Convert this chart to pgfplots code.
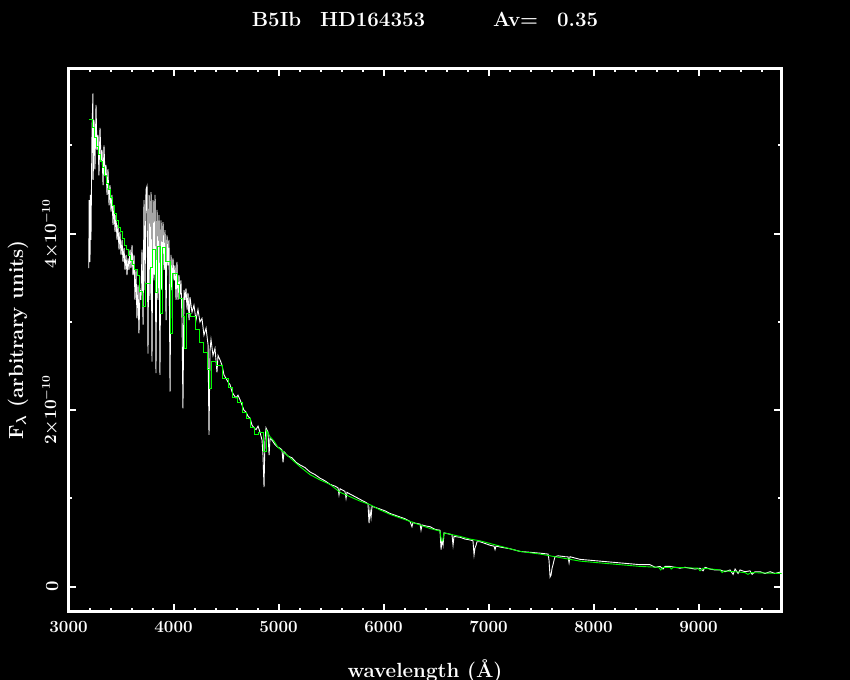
\documentclass[border=0pt]{standalone}
\usepackage{pgfplots}
\pgfplotsset{compat=1.18}
\definecolor{specgreen}{RGB}{0,255,0}
\newcommand{\tickfont}{\fontsize{17bp}{20bp}\selectfont\bfseries\boldmath}
\newcommand{\ytickfont}{\fontsize{18.5bp}{21bp}\selectfont\bfseries\boldmath}
\newcommand{\lblfont}{\fontsize{20.5bp}{24bp}\selectfont\bfseries\boldmath}
\begin{document}
\begin{tikzpicture}
\fill[black] (0,0) rectangle (850bp,680bp);
\useasboundingbox (0,0) rectangle (850bp,680bp);
\begin{axis}[
  at={(68.5bp,68.3bp)}, anchor=south west,
  scale only axis, width=713bp, height=543.4bp,
  xmin=3000, xmax=9790, ymin=-0.283, ymax=5.874,
  xtick={3000,4000,5000,6000,7000,8000,9000},
  minor xtick={3200,3400,3600,3800,4200,4400,4600,4800,5200,5400,5600,5800,6200,6400,6600,6800,7200,7400,7600,7800,8200,8400,8600,8800,9200,9400,9600},
  ytick={0,2,4}, minor ytick={1,3,5},
  yticklabels={0,$2{\times}10^{-10}$,$4{\times}10^{-10}$},
  /pgf/number format/1000 sep={},
  /pgf/number format/assume math mode=true,
  scaled y ticks=false,
  axis line style={white, line width=2.6bp},
  every tick/.style={white, line width=2bp},
  major tick length=7.5bp, minor tick length=3.5bp,
  tick align=inside,
  tick label style={text=white},
  xticklabel style={font=\tickfont, yshift=-6bp},
  yticklabel style={font=\ytickfont, rotate=90, anchor=south, inner sep=0pt, yshift=10bp},
  xlabel={wavelength (\AA)},
  ylabel={F$_{\lambda}$ (arbitrary units)},
  label style={text=white, font=\lblfont},
  xlabel style={at={(axis description cs:0.5,-0.088)}, anchor=north, inner sep=0pt},
  ylabel style={at={(axis description cs:-0.0708,0.5)}, anchor=center},
  title={B5Ib\hspace{19bp}HD164353\hspace{68bp}Av=\hspace{19bp}0.35},
  title style={text=white, font=\lblfont, at={(axis description cs:0.5,1)}, anchor=base, yshift=36bp},
]
\addplot[white, line width=0.9bp] coordinates {
(3193,3.61) (3197,4.38) (3205,3.68) (3207,4.44) (3214,3.93) (3224,5.18) (3233,5.59) (3235,4.61)
(3243,5.29) (3252,4.73) (3262,5.46) (3271,4.95) (3281,5.12) (3290,4.66) (3300,5.20) (3310,4.83)
(3319,4.95) (3329,4.55) (3338,5.00) (3348,4.66) (3357,4.78) (3367,4.44) (3376,4.73) (3386,4.32)
(3395,4.55) (3405,4.25) (3414,4.44) (3424,4.10) (3433,4.32) (3443,4.02) (3452,4.21) (3462,3.93)
(3471,4.10) (3481,3.82) (3490,4.02) (3500,3.76) (3510,3.93) (3519,3.68) (3529,3.84) (3538,3.59)
(3548,3.76) (3557,3.53) (3567,3.72) (3576,3.59) (3586,3.82) (3595,3.61) (3605,3.87) (3614,3.53)
(3624,3.76) (3633,3.25) (3643,3.59) (3652,3.04) (3662,3.42) (3671,2.87) (3681,3.36) (3690,3.25)
(3700,3.82) (3710,2.97) (3719,4.38) (3729,3.36) (3738,4.50) (3748,4.54) (3757,2.64) (3767,4.44)
(3776,3.25) (3786,4.47) (3795,2.55) (3805,4.38) (3814,3.47) (3824,4.44) (3833,2.42) (3843,4.27)
(3852,3.25) (3862,4.21) (3871,2.40) (3881,4.15) (3890,3.36) (3900,4.13) (3910,3.59) (3919,4.04)
(3929,3.02) (3938,3.98) (3948,3.64) (3957,3.93) (3967,2.21) (3976,3.76) (3986,3.36) (3995,3.72)
(4005,3.47) (4014,3.64) (4024,3.25) (4033,3.68) (4043,3.25) (4052,3.53) (4062,3.31) (4071,3.47)
(4081,3.02) (4090,2.02) (4100,3.36) (4110,3.25) (4119,3.38) (4129,3.14) (4138,3.33) (4148,3.02)
(4157,3.28) (4176,3.11) (4195,3.19) (4214,3.02) (4233,3.14) (4252,3.00) (4271,3.04) (4290,2.85)
(4310,2.93) (4329,2.74) (4338,1.72) (4348,2.68) (4357,2.80) (4376,2.62) (4395,2.70) (4414,2.43)
(4424,2.62) (4443,2.57) (4462,2.51) (4481,2.40) (4500,2.36) (4519,2.32) (4538,2.29) (4557,2.21)
(4576,2.17) (4595,2.14) (4614,2.17) (4633,2.12) (4652,2.06) (4671,2.00) (4690,1.98) (4710,1.93)
(4729,1.91) (4748,1.83) (4767,1.80) (4786,1.78) (4805,1.82) (4824,1.75) (4843,1.66) (4852,1.49)
(4862,1.13) (4871,1.66) (4881,1.80) (4900,1.75) (4910,1.49) (4919,1.68) (4938,1.66) (4967,1.61)
(4995,1.58) (5014,1.57) (5033,1.55) (5043,1.41) (5052,1.53) (5090,1.48) (5129,1.46) (5167,1.41)
(5205,1.38) (5252,1.35) (5300,1.30) (5348,1.27) (5395,1.23) (5443,1.20) (5490,1.16) (5538,1.14)
(5567,1.12) (5576,1.04) (5586,1.11) (5633,1.08) (5643,1.00) (5652,1.07) (5681,1.05) (5729,1.02)
(5776,0.99) (5824,0.96) (5852,0.94) (5862,0.72) (5871,0.87) (5881,0.78) (5890,0.91) (5919,0.90)
(5967,0.88) (6014,0.86) (6062,0.83) (6110,0.81) (6157,0.79) (6205,0.77) (6252,0.74) (6271,0.68)
(6281,0.73) (6300,0.72) (6348,0.71) (6357,0.64) (6367,0.70) (6395,0.69) (6443,0.68) (6490,0.65)
(6538,0.64) (6548,0.42) (6557,0.53) (6567,0.47) (6576,0.61) (6614,0.60) (6652,0.59) (6662,0.47)
(6671,0.57) (6729,0.56) (6776,0.54) (6824,0.53) (6852,0.52) (6862,0.36) (6871,0.44) (6881,0.47)
(6890,0.51) (6919,0.51) (6967,0.49) (7014,0.47) (7052,0.46) (7062,0.42) (7071,0.46) (7110,0.45)
(7205,0.43) (7300,0.40) (7395,0.39) (7491,0.38) (7567,0.37) (7576,0.30) (7586,0.11) (7595,0.13)
(7605,0.21) (7614,0.25) (7624,0.30) (7633,0.34) (7662,0.35) (7729,0.34) (7757,0.34) (7767,0.27)
(7776,0.34) (7871,0.31) (7967,0.30) (8062,0.29) (8157,0.28) (8252,0.27) (8348,0.26) (8443,0.25)
(8538,0.25) (8586,0.22) (8633,0.23) (8662,0.20) (8681,0.23) (8729,0.23) (8776,0.22) (8824,0.21)
(8871,0.22) (8919,0.21) (8967,0.20) (9014,0.21) (9043,0.18) (9062,0.22) (9110,0.20) (9157,0.19)
(9205,0.19) (9252,0.17) (9300,0.19) (9329,0.14) (9348,0.20) (9376,0.15) (9395,0.19) (9443,0.17)
(9490,0.18) (9510,0.14) (9538,0.17) (9586,0.17) (9633,0.15) (9681,0.17) (9729,0.15) (9790,0.17)
};
\addplot[specgreen, line width=0.9bp, const plot] coordinates {
(3195,5.30) (3224,5.20) (3243,5.09) (3262,4.99) (3281,4.90) (3300,4.82) (3319,4.75) (3338,4.66)
(3357,4.57) (3376,4.50) (3395,4.41) (3414,4.32) (3433,4.23) (3452,4.15) (3471,4.07) (3490,4.02)
(3510,3.95) (3529,3.87) (3548,3.82) (3567,3.75) (3586,3.70) (3605,3.65) (3624,3.59) (3652,3.53)
(3671,3.34) (3700,3.17) (3729,3.44) (3776,3.62) (3795,3.82) (3824,3.33) (3843,3.85) (3871,3.10)
(3890,3.84) (3919,3.68) (3967,2.87) (3986,3.55) (4033,3.42) (4052,3.27) (4081,3.06) (4100,2.70)
(4119,3.10) (4157,3.06) (4205,2.91) (4243,2.77) (4281,2.66) (4319,2.46) (4338,2.25) (4357,2.55)
(4405,2.51) (4462,2.36) (4519,2.26) (4557,2.15) (4605,2.09) (4652,1.98) (4690,1.91) (4729,1.81)
(4767,1.72) (4805,1.75) (4852,1.53) (4881,1.78)
};
\addplot[specgreen, line width=0.9bp] coordinates {
(4881,1.78) (4919,1.70) (4957,1.65) (4995,1.58) (5043,1.53) (5110,1.46) (5205,1.36) (5300,1.27)
(5395,1.21) (5490,1.16) (5586,1.07) (5681,1.02) (5776,0.97) (5871,0.93) (5967,0.87) (6062,0.82)
(6157,0.78) (6252,0.74) (6348,0.70) (6443,0.66) (6538,0.63) (6550,0.52) (6565,0.52) (6576,0.61)
(6729,0.57) (6824,0.54) (6919,0.52) (7110,0.46) (7300,0.40) (7491,0.37) (7681,0.33) (7871,0.29)
(8062,0.27) (8252,0.25) (8443,0.23) (8620,0.22) (8640,0.19) (8660,0.22) (8729,0.22) (8740,0.20)
(8760,0.22) (8995,0.21) (9014,0.18) (9043,0.21) (9205,0.19) (9225,0.16) (9245,0.18) (9443,0.16)
(9470,0.14) (9500,0.16) (9790,0.15)
};
\end{axis}
\end{tikzpicture}
\end{document}
